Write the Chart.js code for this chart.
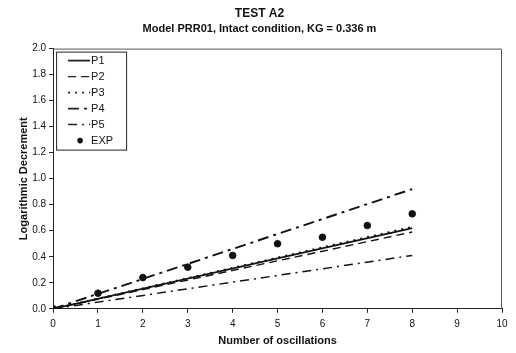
<!DOCTYPE html>
<html lang="en">
<head>
    <meta charset="UTF-8">
    <title>TEST A2</title>
    <script src="https://cdn.jsdelivr.net/npm/chart.js"></script>
    <style>
        html, body {
            margin: 0;
            padding: 0;
            background: #fff;
        }
        .chart-container {
            width: 516px;
            height: 353px;
        }
    </style>
</head>
<body>
    <div class="chart-container">
        <canvas id="decrementChart"></canvas>
    </div>

    <script>
        // Dados
        const seriesNames = ['P1', 'P2', 'P3', 'P4', 'P5'];
        const lineX = [0, 8];
        const p1 = [0, 0.62];
        const p2 = [0, 0.59];
        const p3 = [0, 0.63];
        const p4 = [0, 0.92];
        const p5 = [0, 0.41];
        const expX = [0, 1, 2, 3, 4, 5, 6, 7, 8];
        const expY = [0, 0.12, 0.24, 0.32, 0.41, 0.50, 0.55, 0.64, 0.73];
        const xTicks = [0, 1, 2, 3, 4, 5, 6, 7, 8, 9, 10];
        const yTicks = [0, 0.2, 0.4, 0.6, 0.8, 1.0, 1.2, 1.4, 1.6, 1.8, 2.0];

        const FONT = 'Liberation Sans, Arial, sans-serif';
        const dashes = [[], [8, 5], [2, 5], [11, 5, 3, 5], [9, 5, 2, 5]];
        const widths = [1.8, 1.4, 1.8, 1.9, 1.5];

        function toPoints(xs, ys) {
            return xs.map((x, i) => ({ x: x, y: ys[i] }));
        }

        const lineSeries = [p1, p2, p3, p4, p5];
        const datasets = lineSeries.map((vals, i) => ({
            label: seriesNames[i],
            data: toPoints(lineX, vals),
            showLine: true,
            borderColor: '#111',
            borderWidth: widths[i],
            borderDash: dashes[i],
            pointRadius: 0,
            fill: false,
            tension: 0
        }));
        datasets.push({
            label: 'EXP',
            data: toPoints(expX, expY),
            showLine: false,
            pointRadius: 3.3,
            pointBackgroundColor: '#111',
            pointBorderColor: '#111'
        });

        // Moldura + legenda dentro da área do gráfico
        const boxLegend = {
            id: 'boxLegend',
            afterDraw(chart) {
                const c = chart.ctx;
                const area = chart.chartArea;
                c.save();
                // moldura superior e direita
                c.strokeStyle = '#555';
                c.lineWidth = 1;
                c.beginPath();
                c.moveTo(area.left, area.top + 0.5);
                c.lineTo(area.right - 0.5, area.top + 0.5);
                c.lineTo(area.right - 0.5, area.bottom);
                c.stroke();

                const x0 = area.left + 3, y0 = area.top + 3;
                const w = 70, h = 98, rowH = 16;
                c.fillStyle = '#fff';
                c.fillRect(x0, y0, w, h);
                c.strokeStyle = '#222';
                c.strokeRect(x0 + 0.5, y0 + 0.5, w, h);
                c.font = '11px ' + FONT;
                c.textBaseline = 'middle';
                c.fillStyle = '#111';
                chart.data.datasets.forEach((ds, i) => {
                    const cy = y0 + 9 + i * rowH;
                    if (ds.showLine === false) {
                        c.beginPath();
                        c.arc(x0 + 24, cy, 2.8, 0, Math.PI * 2);
                        c.fill();
                    } else {
                        c.beginPath();
                        c.setLineDash(ds.borderDash);
                        c.lineWidth = ds.borderWidth;
                        c.moveTo(x0 + 12, cy);
                        c.lineTo(x0 + 34, cy);
                        c.stroke();
                        c.setLineDash([]);
                    }
                    c.fillText(ds.label, x0 + 35, cy);
                });
                c.restore();
            }
        };

        const axisGrid = { display: true, drawOnChartArea: false, drawTicks: true, tickLength: 4, color: '#222' };

        const ctx = document.getElementById('decrementChart').getContext('2d');
        new Chart(ctx, {
            type: 'scatter',
            data: { datasets: datasets },
            plugins: [boxLegend],
            options: {
                responsive: true,
                maintainAspectRatio: false,
                animation: false,
                layout: { padding: { left: 17, right: 14, top: 2, bottom: 5 } },
                plugins: {
                    legend: { display: false },
                    tooltip: { enabled: false },
                    title: {
                        display: true,
                        text: 'TEST A2',
                        color: '#111',
                        font: { family: FONT, size: 12, weight: 'bold' },
                        padding: { top: 4, bottom: 2 }
                    },
                    subtitle: {
                        display: true,
                        text: 'Model PRR01, Intact condition, KG = 0.336 m',
                        color: '#111',
                        font: { family: FONT, size: 11, weight: 'bold' },
                        padding: { bottom: 13 }
                    }
                },
                scales: {
                    x: {
                        type: 'linear',
                        min: 0,
                        max: 10,
                        afterBuildTicks: axis => { axis.ticks = xTicks.map(v => ({ value: v })); },
                        grid: axisGrid,
                        border: { color: '#222', width: 1 },
                        ticks: { color: '#111', font: { family: FONT, size: 10 }, padding: 5 },
                        title: {
                            display: true,
                            text: 'Number of oscillations',
                            color: '#111',
                            font: { family: FONT, size: 11, weight: 'bold' },
                            padding: { top: 0, bottom: 0 }
                        }
                    },
                    y: {
                        type: 'linear',
                        min: 0,
                        max: 2,
                        afterBuildTicks: axis => { axis.ticks = yTicks.map(v => ({ value: v })); },
                        grid: axisGrid,
                        border: { color: '#222', width: 1 },
                        ticks: {
                            color: '#111',
                            font: { family: FONT, size: 10 },
                            padding: 3,
                            callback: v => Number(v).toFixed(1)
                        },
                        title: {
                            display: true,
                            text: 'Logarithmic Decrement',
                            color: '#111',
                            font: { family: FONT, size: 11, weight: 'bold' },
                            padding: { top: 0, bottom: -1 }
                        }
                    }
                }
            }
        });
    </script>
</body>
</html>
